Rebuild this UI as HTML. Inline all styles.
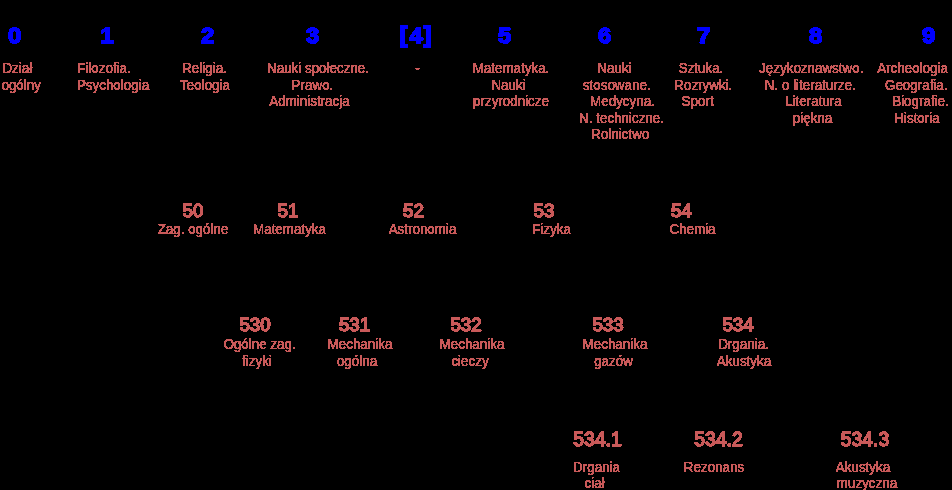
<!DOCTYPE html>
<html><head><meta charset="utf-8"><style>
html,body{margin:0;padding:0;background:#000;width:952px;height:490px;overflow:hidden}
svg{display:block}
text{text-anchor:middle;font-family:"Liberation Sans",sans-serif}
.d{font-size:22px;font-weight:bold;fill:#0000ff;stroke:#0000ff;stroke-width:1.0px}
.n{font-size:18.7px;fill:#c95a5a;stroke:#c95a5a;stroke-width:0.8px}
.n4{font-size:19.3px;fill:#c95a5a;stroke:#c95a5a;stroke-width:0.8px}
.t{font-size:13.4px;fill:#c95a5a;stroke:#c95a5a;stroke-width:0px}
</style></head><body>
<svg width="952" height="490" viewBox="0 0 952 490">
<defs><filter id="th" filterUnits="userSpaceOnUse" x="0" y="0" width="952" height="490" color-interpolation-filters="sRGB"><feComponentTransfer><feFuncA type="discrete" tableValues="0 1 1 1 1 1 1 1 1 1"/></feComponentTransfer></filter></defs>
<rect width="952" height="490" fill="#000"/>
<g filter="url(#th)">
<text transform="translate(14.5 43) scale(1.08 1)" class="d">0</text>
<text transform="translate(107.1 43) scale(1.08 1)" class="d">1</text>
<text transform="translate(207.5 43) scale(1.08 1)" class="d">2</text>
<text transform="translate(312.5 43) scale(1.08 1)" class="d">3</text>
<text transform="translate(403.7 42) scale(1.08 1)" class="d">[</text>
<text transform="translate(416.0 43) scale(1.08 1)" class="d">4</text>
<text transform="translate(427.7 42) scale(1.08 1)" class="d">]</text>
<text transform="translate(504.5 43) scale(1.08 1)" class="d">5</text>
<text transform="translate(604.5 43) scale(1.08 1)" class="d">6</text>
<text transform="translate(703.5 43) scale(1.08 1)" class="d">7</text>
<text transform="translate(815.5 43) scale(1.08 1)" class="d">8</text>
<text transform="translate(928.5 43) scale(1.08 1)" class="d">9</text>
<text transform="translate(17.3 73.0) scale(1 1.08)" class="t">Dział</text>
<text transform="translate(21.2 89.5) scale(1 1.08)" class="t">ogólny</text>
<text transform="translate(104.0 73.0) scale(1 1.08)" class="t">Filozofia.</text>
<text transform="translate(113.0 89.5) scale(1 1.08)" class="t">Psychologia</text>
<text transform="translate(204.5 73.0) scale(1 1.08)" class="t">Religia.</text>
<text transform="translate(205.0 89.5) scale(1 1.08)" class="t">Teologia</text>
<text transform="translate(318.0 73.0) scale(1 1.08)" class="t">Nauki społeczne.</text>
<text transform="translate(312.5 89.5) scale(1 1.08)" class="t">Prawo.</text>
<text transform="translate(309.5 106.0) scale(1 1.08)" class="t">Administracja</text>
<text transform="translate(417.5 73.0) scale(1 1.08)" class="t">-</text>
<text transform="translate(511.0 73.0) scale(1 1.08)" class="t">Matematyka.</text>
<text transform="translate(508.5 89.5) scale(1 1.08)" class="t">Nauki</text>
<text transform="translate(511.0 106.0) scale(1 1.08)" class="t">przyrodnicze</text>
<text transform="translate(614.45 73.0) scale(1 1.08)" class="t">Nauki</text>
<text transform="translate(616.7 89.5) scale(1 1.08)" class="t">stosowane.</text>
<text transform="translate(622.5 106.0) scale(1 1.08)" class="t">Medycyna.</text>
<text transform="translate(621.55 122.5) scale(1 1.08)" class="t">N. techniczne.</text>
<text transform="translate(620.35 139.0) scale(1 1.08)" class="t">Rolnictwo</text>
<text transform="translate(701.0 73.0) scale(1 1.08)" class="t">Sztuka.</text>
<text transform="translate(703.3 89.5) scale(1 1.08)" class="t">Rozrywki.</text>
<text transform="translate(697.6 106.0) scale(1 1.08)" class="t">Sport</text>
<text transform="translate(811.25 73.0) scale(1 1.08)" class="t">Językoznawstwo.</text>
<text transform="translate(810.25 89.5) scale(1 1.08)" class="t">N. o literaturze.</text>
<text transform="translate(813.45 106.0) scale(1 1.08)" class="t">Literatura</text>
<text transform="translate(812.55 122.5) scale(1 1.08)" class="t">piękna</text>
<text transform="translate(912.5 73.0) scale(1 1.08)" class="t">Archeologia</text>
<text transform="translate(916.25 89.5) scale(1 1.08)" class="t">Geografia.</text>
<text transform="translate(920.5 106.0) scale(1 1.08)" class="t">Biografie.</text>
<text transform="translate(917.0 122.5) scale(1 1.08)" class="t">Historia</text>
<text x="193.0" y="217" class="n">50</text>
<text transform="translate(193.0 234.3) scale(1 1.08)" class="t">Zag. ogólne</text>
<text x="288.0" y="217" class="n">51</text>
<text transform="translate(289.5 234.0) scale(1 1.08)" class="t">Matematyka</text>
<text x="413.5" y="217" class="n">52</text>
<text transform="translate(422.5 234.3) scale(1 1.08)" class="t">Astronomia</text>
<text x="544.0" y="217" class="n">53</text>
<text transform="translate(551.5 234.1) scale(1 1.08)" class="t">Fizyka</text>
<text x="681.5" y="217" class="n">54</text>
<text transform="translate(692.5 234.1) scale(1 1.08)" class="t">Chemia</text>
<text x="255.0" y="331" class="n">530</text>
<text transform="translate(259.5 349.1) scale(1 1.08)" class="t">Ogólne zag.</text>
<text transform="translate(257.0 365.5) scale(1 1.08)" class="t">fizyki</text>
<text x="354.5" y="331" class="n">531</text>
<text transform="translate(360.0 349.1) scale(1 1.08)" class="t">Mechanika</text>
<text transform="translate(357.0 365.5) scale(1 1.08)" class="t">ogólna</text>
<text x="466.0" y="331" class="n">532</text>
<text transform="translate(472.0 349.1) scale(1 1.08)" class="t">Mechanika</text>
<text transform="translate(470.0 365.5) scale(1 1.08)" class="t">cieczy</text>
<text x="608.0" y="331" class="n">533</text>
<text transform="translate(615.0 349.1) scale(1 1.08)" class="t">Mechanika</text>
<text transform="translate(613.5 365.5) scale(1 1.08)" class="t">gazów</text>
<text x="738.0" y="331" class="n">534</text>
<text transform="translate(743.5 349.1) scale(1 1.08)" class="t">Drgania.</text>
<text transform="translate(744.0 365.5) scale(1 1.08)" class="t">Akustyka</text>
<text x="597.5" y="446" class="n4">534.1</text>
<text transform="translate(596.5 471.9) scale(1 1.08)" class="t">Drgania</text>
<text transform="translate(594.5 487.5) scale(1 1.08)" class="t">ciał</text>
<text x="718.5" y="446" class="n4">534.2</text>
<text transform="translate(714.0 471.9) scale(1 1.08)" class="t">Rezonans</text>
<text x="865.0" y="446" class="n4">534.3</text>
<text transform="translate(863.0 471.9) scale(1 1.08)" class="t">Akustyka</text>
<text transform="translate(867.0 487.5) scale(1 1.08)" class="t">muzyczna</text>
</g>
</svg>
</body></html>
